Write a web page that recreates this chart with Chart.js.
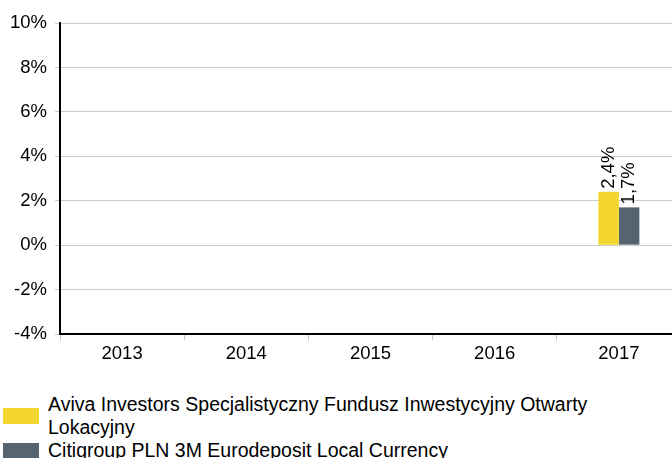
<!DOCTYPE html>
<html>
<head>
<meta charset="utf-8">
<script src="https://cdn.jsdelivr.net/npm/chart.js@4.4.0/dist/chart.umd.min.js"></script>
<style>
  html, body { margin: 0; padding: 0; overflow: hidden; background: #fff; width: 672px; height: 458px; }
  #wrap { position: relative; width: 682px; height: 370px; }
  #legend { position: absolute; left: 0; top: 393px; font-family: "Liberation Sans", Arial, sans-serif; font-size: 19.5px; color: #000; line-height: 23px; }
  .item { display: flex; align-items: center; margin: 0; }
  .box { width: 36px; height: 16px; margin-left: 3px; margin-right: 9px; flex: none; }
  .txt { width: 615px; }
</style>
</head>
<body>
<div id="wrap"><canvas id="c" width="682" height="370"></canvas></div>
<div id="legend"></div>
<script>
const categories = ["2013", "2014", "2015", "2016", "2017"];
const seriesNames = ["Aviva Investors Specjalistyczny Fundusz Inwestycyjny Otwarty Lokacyjny", "Citigroup PLN 3M Eurodeposit Local Currency"];
const fundValues = [null, null, null, null, 2.4];
const benchmarkValues = [null, null, null, null, 1.7];
const seriesColors = ["#F2D62F", "#546571"];
const yMin = -4, yMax = 10, yStep = 2;

const FONT = { family: "'Liberation Sans', Arial, sans-serif", size: 18.5 };
const fmt = v => v.toFixed(1).replace('.', ',') + '%';

const labelPlugin = {
  id: 'valueLabels',
  afterDatasetsDraw(chart) {
    const ctx = chart.ctx;
    chart.data.datasets.forEach((ds, i) => {
      const meta = chart.getDatasetMeta(i);
      meta.data.forEach((bar, j) => {
        const v = ds.data[j];
        if (v == null) return;
        ctx.save();
        ctx.font = FONT.size + "px " + FONT.family;
        ctx.fillStyle = '#000';
        ctx.translate(bar.x, bar.y - 3);
        ctx.rotate(-Math.PI / 2);
        ctx.textAlign = 'left';
        ctx.textBaseline = 'middle';
        ctx.fillText(fmt(v), 0, 0);
        ctx.restore();
      });
    });
  }
};

new Chart(document.getElementById('c'), {
  type: 'bar',
  data: {
    labels: categories,
    datasets: [
      { label: seriesNames[0], data: fundValues, backgroundColor: seriesColors[0], categoryPercentage: 0.33, barPercentage: 1.0 },
      { label: seriesNames[1], data: benchmarkValues, backgroundColor: seriesColors[1], categoryPercentage: 0.33, barPercentage: 1.0 }
    ]
  },
  options: {
    responsive: false,
    animation: false,
    layout: { padding: { top: 23, right: 1, left: 0, bottom: 0 } },
    plugins: { legend: { display: false }, tooltip: { enabled: false } },
    scales: {
      x: {
        grid: { display: true, drawOnChartArea: false, offset: true, color: '#c8c8c8', tickLength: 6 },
        border: { color: '#000', width: 2 },
        ticks: { font: FONT, color: '#000', padding: 3 },
        afterFit(s) { s.height = 36; }
      },
      y: {
        min: yMin, max: yMax,
        grid: { color: '#cccccc', tickLength: 5 },
        border: { color: '#000', width: 2 },
        ticks: { stepSize: yStep, font: FONT, color: '#000', padding: 8, callback: v => v + '%' },
        afterFit(s) { s.width = 60; }
      }
    }
  },
  plugins: [labelPlugin]
});

const legend = document.getElementById('legend');
seriesNames.forEach((n, i) => {
  const it = document.createElement('div');
  it.className = 'item';
  const b = document.createElement('div');
  b.className = 'box';
  b.style.background = seriesColors[i];
  const t = document.createElement('div');
  t.className = 'txt';
  t.textContent = n;
  it.appendChild(b); it.appendChild(t);
  legend.appendChild(it);
});
</script>
</body>
</html>
